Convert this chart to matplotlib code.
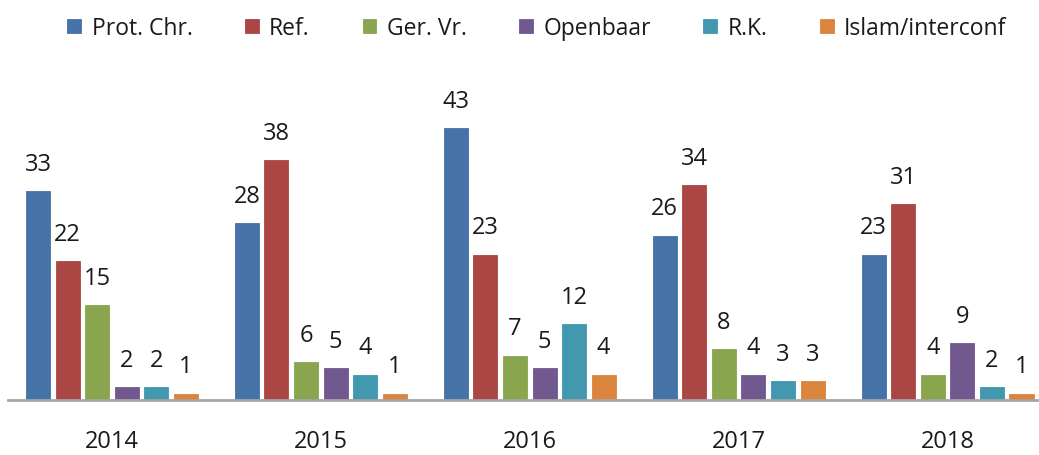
import matplotlib
matplotlib.use("Agg")
import matplotlib.pyplot as plt
import numpy as np

plt.rcParams['font.family'] = ['Open Sans', 'DejaVu Sans']

years = ["2014", "2015", "2016", "2017", "2018"]
series_names = ["Prot. Chr.", "Ref.", "Ger. Vr.", "Openbaar", "R.K.", "Islam/interconf"]
prot_chr = [33, 28, 43, 26, 23]
ref = [22, 38, 23, 34, 31]
ger_vr = [15, 6, 7, 8, 4]
openbaar = [2, 5, 5, 4, 9]
rk = [2, 4, 12, 3, 2]
islam = [1, 1, 4, 3, 1]
series_values = [prot_chr, ref, ger_vr, openbaar, rk, islam]
colors = ["#4572a7", "#aa4643", "#89a54e", "#71588f", "#4198af", "#db843d"]

W, H = 1039, 456
fig = plt.figure(figsize=(W / 100, H / 100), dpi=100)
ax = fig.add_axes([7.5 / W, (H - 401) / H, 1044.5 / W, 316 / H])

x = np.arange(len(years))
step = 0.1416
width = 0.115
n = len(series_names)
handles = []
for i, (name, vals, c) in enumerate(zip(series_names, series_values, colors)):
    pos = x + (i - (n - 1) / 2) * step
    b = ax.bar(pos, vals, width, color=c, label=name, edgecolor=c, linewidth=0.6, zorder=2)
    handles.append(b)
    for p, v in zip(pos, vals):
        ax.annotate(str(v), (p, v), xytext=(0, 11), textcoords="offset points",
                    ha="center", va="bottom", fontsize=17, color="#1a1a1a")

ax.set_xlim(-0.5, 4.5)
ax.set_ylim(0, 50)
for s in ["top", "right", "left"]:
    ax.spines[s].set_visible(False)
ax.spines["bottom"].set_color("#a6a6a6")
ax.spines["bottom"].set_linewidth(2)
ax.set_yticks([])
ax.set_xticks(x)
ax.set_xticklabels(years, fontsize=17, color="#1a1a1a")
ax.tick_params(axis="x", length=0, pad=21)

fig.legend(handles=handles, labels=series_names, loc="center", ncol=6,
           bbox_to_anchor=(537 / W, 1 - 29 / H), frameon=False, fontsize=16.5,
           handlelength=0.6, handleheight=0.6, handletextpad=0.45, columnspacing=2.3,
           labelcolor="#1a1a1a")

fig.savefig("out.png", dpi=100)
